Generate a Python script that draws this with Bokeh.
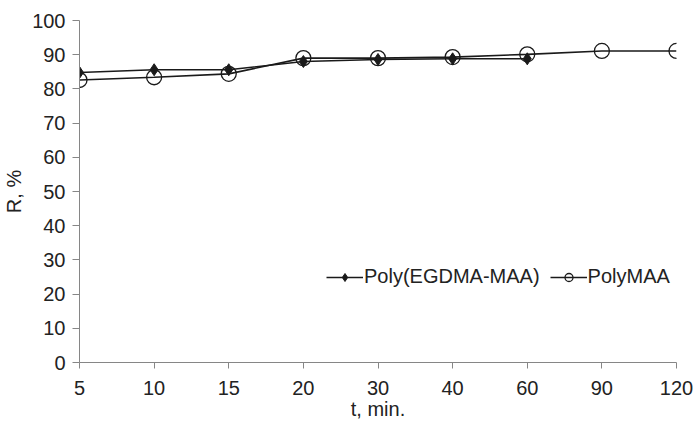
from bokeh.plotting import figure
from bokeh.models import Range1d, FixedTicker, Legend, LegendItem
from bokeh.embed import file_html
from bokeh.resources import INLINE

# Data
times = [5, 10, 15, 20, 30, 40, 60, 90, 120]
poly_egdma_maa = [84.8, 85.6, 85.6, 88.0, 88.6, 88.8, 88.8]
poly_maa = [82.6, 83.4, 84.4, 89.0, 89.0, 89.3, 90.1, 91.1, 91.1]
y_ticks = list(range(0, 101, 10))

FONT = "Liberation Sans"
FS = "20px"
AXIS_COLOR = "#868686"
TEXT_COLOR = "#222222"

idx_all = list(range(len(times)))
idx_egdma = idx_all[:len(poly_egdma_maa)]

p = figure(width=694, height=422, output_backend="svg", toolbar_location=None,
           x_range=Range1d(0, len(times) - 1), y_range=Range1d(0, 100),
           min_border_left=79, min_border_right=18, min_border_top=20, min_border_bottom=58)

p.outline_line_color = None
p.grid.visible = False
p.background_fill_color = "white"
p.border_fill_color = "white"

# Series
l2 = p.line(idx_all, poly_maa, line_color="#1a1a1a", line_width=1.6)
s2 = p.scatter(idx_all, poly_maa, marker="circle", size=15, fill_color=None,
               line_color="#1a1a1a", line_width=1.3)
l1 = p.line(idx_egdma, poly_egdma_maa, line_color="#1a1a1a", line_width=1.6)
s1 = p.scatter(idx_egdma, poly_egdma_maa, marker="diamond", size=12,
               fill_color="#1a1a1a", line_color="#1a1a1a")

# Axes
p.xaxis.ticker = FixedTicker(ticks=idx_all)
p.xaxis.major_label_overrides = {i: str(t) for i, t in zip(idx_all, times)}
p.yaxis.ticker = FixedTicker(ticks=y_ticks)

for ax in (p.xaxis, p.yaxis):
    ax.axis_line_color = AXIS_COLOR
    ax.major_tick_line_color = AXIS_COLOR
    ax.minor_tick_line_color = None
    ax.major_tick_in = 0
    ax.major_label_text_font = FONT
    ax.major_label_text_font_size = FS
    ax.major_label_text_color = TEXT_COLOR
    ax.axis_label_text_font = FONT
    ax.axis_label_text_font_size = FS
    ax.axis_label_text_font_style = "normal"
    ax.axis_label_text_color = TEXT_COLOR

p.xaxis.major_tick_out = 6
p.yaxis.major_tick_out = 7
p.xaxis.major_label_standoff = 12
p.yaxis.major_label_standoff = 7
p.xaxis.axis_label = "t, min."
p.yaxis.axis_label = "R, %"
p.xaxis.axis_label_standoff = 0
p.yaxis.axis_label_standoff = 4

legend = Legend(items=[LegendItem(label="Poly(EGDMA-MAA)", renderers=[l1, s1]),
                       LegendItem(label="PolyMAA", renderers=[l2, s2])],
                orientation="horizontal", location=(247, 74),
                border_line_color=None, background_fill_alpha=0,
                label_text_font=FONT, label_text_font_size=FS,
                label_text_color=TEXT_COLOR, glyph_width=37, glyph_height=20,
                label_standoff=1, spacing=10, padding=0, margin=0)
p.add_layout(legend)

open("out.html", "w").write(file_html(p, INLINE))
